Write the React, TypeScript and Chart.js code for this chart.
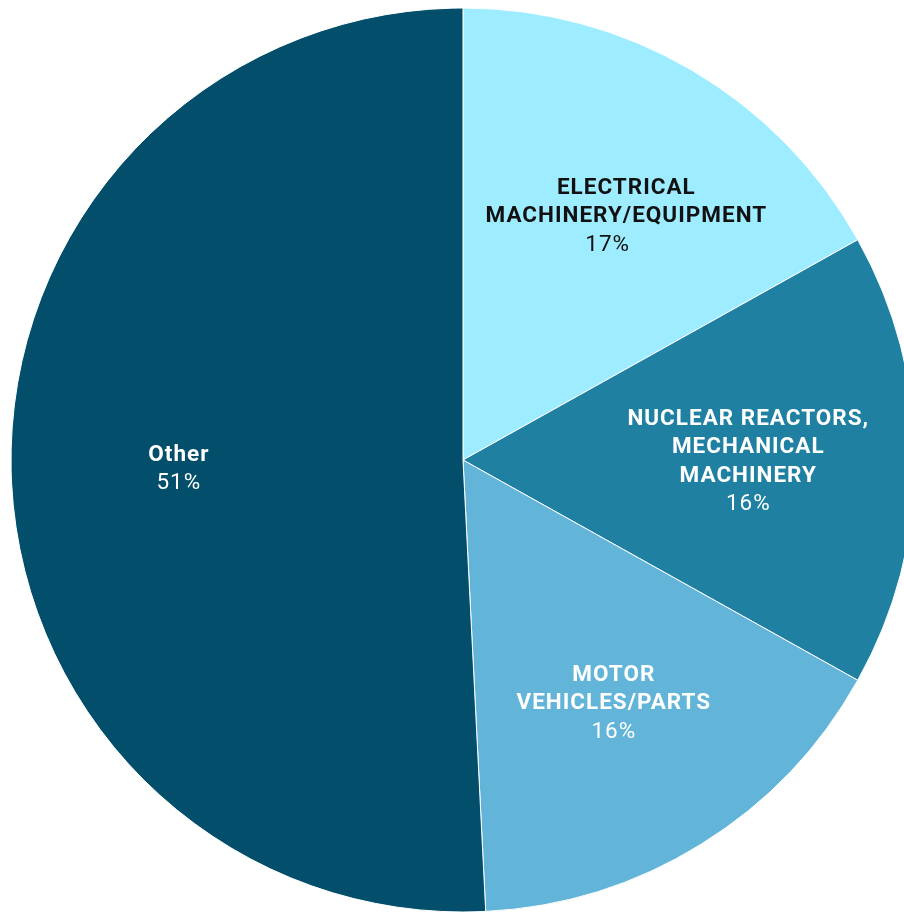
import React, { useEffect, useRef } from "react";
import { Chart, registerables } from "chart.js";

Chart.register(...registerables);

const categories: string[][] = [
  ["ELECTRICAL", "MACHINERY/EQUIPMENT"],
  ["NUCLEAR REACTORS,", "MECHANICAL", "MACHINERY"],
  ["MOTOR", "VEHICLES/PARTS"],
  ["Other"],
];
const shares: number[] = [16.9, 16.2, 16.1, 50.8];
const sliceColors: string[] = ["#9EECFF", "#1F80A1", "#62B4D8", "#024E6B"];
const labelColors: string[] = ["#111111", "#FFFFFF", "#FFFFFF", "#FFFFFF"];

const FONT = "Roboto, 'Noto Sans', sans-serif";
const SPACING = 1.0;
const SIZE = 22.5;

const labelPlugin = {
  id: "sliceLabels",
  afterDatasetsDraw(chart: any) {
    const ctx = chart.ctx as CanvasRenderingContext2D;
    const meta = chart.getDatasetMeta(0);
    const data = chart.data.datasets[0].data as number[];
    const total = data.reduce((a, b) => a + b, 0);
    const lh = 28.5;
    meta.data.forEach((arc: any, i: number) => {
      const p = arc.getProps(["x", "y", "startAngle", "endAngle", "outerRadius"], true);
      const mid = (p.startAngle + p.endAngle) / 2;
      const d = p.outerRadius * 0.63;
      const ax = p.x + Math.cos(mid) * d;
      let cx = ax;
      const cy = p.y + Math.sin(mid) * d + 2;
      const lines = categories[i];
      const pct = Math.round((data[i] / total) * 100) + "%";
      const n = lines.length + 1;
      const top = cy - ((n - 1) * lh) / 2;
      ctx.save();
      (ctx as any).letterSpacing = SPACING + "px";
      ctx.textAlign = "center";
      ctx.textBaseline = "middle";
      ctx.fillStyle = labelColors[i];
      ctx.font = `bold ${SIZE}px ${FONT}`;
      let maxW = 0;
      lines.forEach((t) => (maxW = Math.max(maxW, ctx.measureText(t).width)));
      // keep the name block clear of the vertical slice edge
      const margin = 22;
      if (Math.cos(mid) > 0 && cx - maxW / 2 < p.x + margin) cx = p.x + margin + maxW / 2;
      if (Math.cos(mid) < 0 && cx + maxW / 2 > p.x - margin) cx = p.x - margin - maxW / 2;
      lines.forEach((t, k) => ctx.fillText(t, cx + SPACING / 2, top + k * lh));
      ctx.font = `${SIZE}px ${FONT}`;
      ctx.fillText(pct, ax + SPACING / 2, top + lines.length * lh);
      ctx.restore();
    });
  },
};

export default function App() {
  const ref = useRef<HTMLCanvasElement>(null);
  useEffect(() => {
    if (!ref.current) return;
    const chart = new Chart(ref.current, {
      type: "pie",
      data: {
        labels: categories.map((c) => c.join(" ")),
        datasets: [
          {
            data: shares,
            backgroundColor: sliceColors,
            borderColor: "#FFFFFF",
            borderWidth: 1,
          },
        ],
      },
      options: {
        responsive: false,
        animation: false,
        radius: 452,
        layout: { padding: { left: 22, right: 0, top: 8, bottom: 0 } },
        plugins: {
          legend: { display: false },
          tooltip: { enabled: false },
        },
      },
      plugins: [labelPlugin],
    });
    return () => chart.destroy();
  }, []);
  return (
    <div style={{ position: "fixed", left: 0, top: 0, width: 904, height: 912, overflow: "hidden", background: "#fff" }}>
      <canvas ref={ref} width={904} height={912} style={{ display: "block", width: 904, height: 912 }} />
    </div>
  );
}
